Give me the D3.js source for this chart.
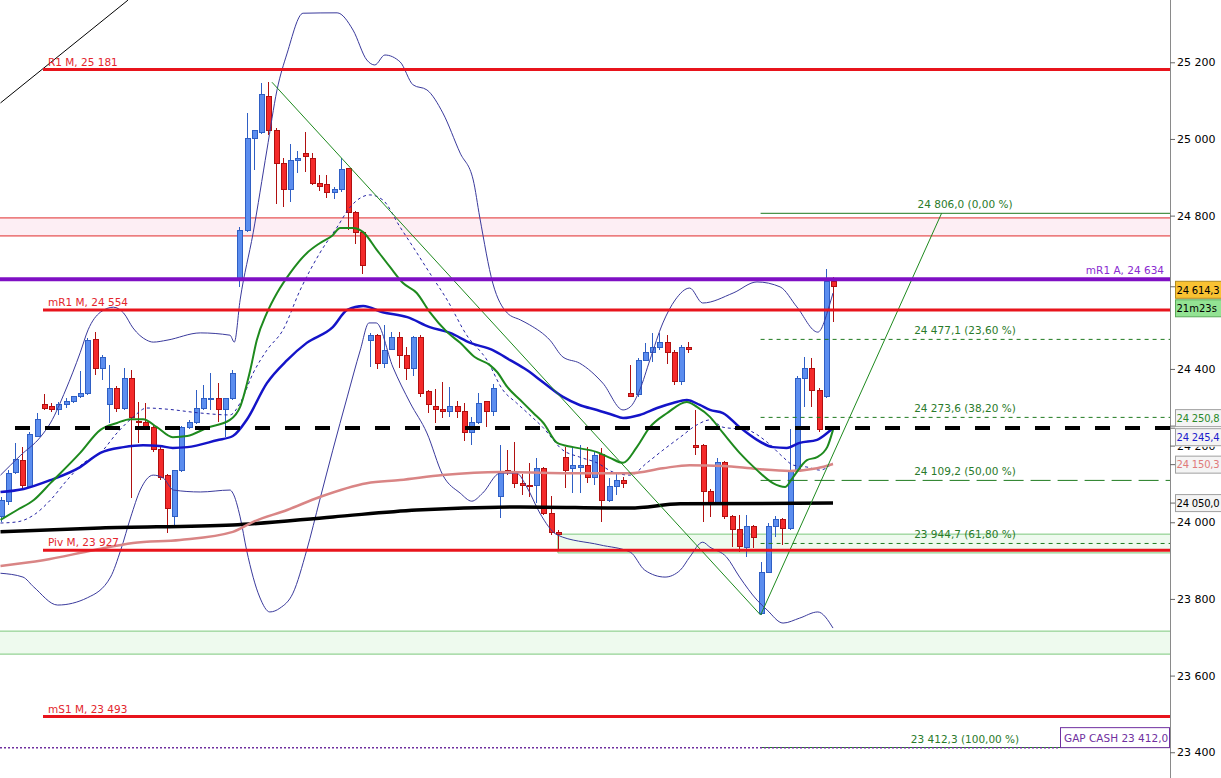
<!DOCTYPE html>
<html>
<head>
<meta charset="utf-8">
<script src="https://cdn.jsdelivr.net/npm/d3@7"></script>
<style>
  body { margin: 0; background: #fff; }
  svg { display: block; font-family: "DejaVu Sans", sans-serif; }
</style>
</head>
<body>
<div id="chart"></div>
<script>
// ---- data ----
// candles: [open, high, low, close]
const ohlc = [
  [24014,24066,24001,24058],[24053,24136,24045,24128],[24131,24207,24126,24165],[24162,24196,24084,24097],
  [24092,24235,24089,24230],[24225,24285,24222,24269],[24308,24335,24293,24298],[24301,24311,24288,24295],
  [24295,24314,24280,24308],[24306,24324,24298,24316],[24314,24329,24311,24327],[24327,24395,24324,24335],
  [24335,24481,24332,24475],[24478,24496,24384,24400],[24402,24436,24371,24431],[24308,24410,24259,24348],
  [24350,24355,24288,24298],[24298,24402,24293,24376],[24374,24397,24063,24272],[24264,24314,24207,24259],
  [24259,24311,24241,24248],[24248,24254,24183,24191],[24191,24196,24110,24118],[24121,24126,23972,24037],
  [24014,24136,23993,24134],[24134,24251,24131,24246],[24248,24267,24243,24259],[24259,24345,24256,24298],
  [24298,24358,24293,24324],[24322,24389,24293,24324],[24324,24363,24262,24293],[24293,24324,24222,24322],
  [24322,24397,24319,24389],[24637,24770,24614,24762],[24762,25068,24757,25002],[25002,25023,24919,25023],
  [25018,25146,25013,25115],[25112,25149,25010,25023],[25023,25029,24830,24935],[24935,24950,24822,24867],
  [24867,24987,24835,24945],[24945,24969,24911,24948],[24961,25018,24914,24953],[24950,24963,24880,24885],
  [24885,24906,24864,24875],[24880,24906,24846,24859],[24859,24875,24843,24867],[24867,24950,24862,24919],
  [24922,24924,24762,24807],[24809,24812,24726,24757],[24757,24760,24648,24671],[24475,24494,24405,24486],
  [24486,24491,24400,24413],[24415,24515,24402,24449],[24452,24496,24449,24481],[24481,24496,24402,24436],
  [24434,24457,24371,24402],[24402,24486,24382,24481],[24481,24489,24327,24337],[24340,24345,24285,24308],
  [24303,24348,24259,24295],[24295,24366,24272,24290],[24288,24353,24275,24301],[24303,24316,24272,24290],
  [24288,24311,24212,24235],[24235,24275,24201,24259],[24259,24337,24256,24311],[24314,24316,24248,24288],
  [24288,24361,24277,24350],[24066,24201,24011,24131],[24136,24188,24123,24131],[24131,24209,24089,24102],
  [24102,24126,24071,24097],[24095,24155,24066,24092],[24095,24168,24050,24139],[24139,24144,24019,24024],
  [24024,24068,23967,23972],[23972,23980,23928,23969],[24170,24196,24089,24136],[24139,24196,24076,24147],
  [24144,24201,24076,24147],[24147,24196,24102,24118],[24118,24183,24097,24175],[24178,24194,24001,24058],
  [24058,24115,24053,24092],[24092,24128,24071,24110],[24110,24118,24089,24100],[24335,24410,24327,24329],
  [24332,24428,24327,24421],[24423,24468,24421,24444],[24444,24494,24418,24455],[24455,24494,24449,24470],
  [24470,24489,24413,24442],[24442,24449,24358,24366],[24366,24462,24358,24457],[24457,24470,24442,24452],
  [24201,24293,24175,24196],[24199,24204,24001,24079],[24081,24087,24014,24050],[24050,24168,24045,24157],
  [24155,24160,24008,24014],[24014,24019,23935,23982],[23982,24019,23922,23938],[23935,24019,23909,23988],
  [23988,23993,23933,23959],[23763,23896,23758,23870],[23870,23998,23868,23990],[23990,24016,23962,24008],
  [24008,24011,23941,23985],[23985,24243,23980,24134],[24134,24382,24131,24376],[24374,24431,24301,24402],
  [24402,24428,24301,24345],[24345,24350,24235,24243],[24329,24661,24324,24627],[24627,24640,24522,24614]
];

// indicator lines: [candle index, price]
const bollUpper = [[0,24123],[2.8,24175],[5.5,24222],[6.9,24259],[9,24345],[11,24442],[12.1,24502],[13.8,24548],
  [15.6,24561],[17,24546],[18.3,24507],[20.2,24475],[21.1,24470],[23,24475],[27.6,24494],[31.7,24488],[32.3,24470],
  [33.1,24580],[34.9,24755],[36.8,24971],[38.2,25128],[39.6,25224],[41.8,25328],[46.5,25329],[48.7,25284],
  [50.6,25206],[51.7,25193],[53.1,25219],[55.2,25201],[57,25141],[58.9,25128],[61.1,25068],[63.5,24963],
  [65.3,24893],[66.2,24796],[68,24624],[70,24546],[71.8,24528],[73.1,24515],[75.9,24475],[77.7,24431],
  [80,24415],[83.2,24363],[86,24293],[87,24301],[88.3,24345],[89.7,24423],[91.5,24520],[93.2,24580],
  [95.2,24611],[97,24572],[101.2,24598],[104.5,24627],[107.7,24614],[110,24562],[112.9,24496],[114.6,24572],[115,24598]];
const bollLower = [[0,23867],[3.1,23857],[4.6,23831],[7.9,23784],[12,23803],[15.2,23857],[16.6,23927],[18,24014],
  [19.3,24084],[21.1,24123],[22.5,24115],[23.9,24084],[27.6,24079],[31.7,24084],[32.1,24076],
  [33.1,24014],[34,23927],[35.8,23805],[37.2,23766],[38.6,23776],[40.4,23815],[42.3,23927],[44.1,24058],
  [45.9,24188],[47.9,24327],[49.7,24449],[50.9,24520],[51.9,24520],[54.2,24405],[56.6,24311],[58.9,24233],
  [61.1,24123],[63.5,24076],[65.1,24055],[66.6,24076],[69,24128],[71.3,24128],[72.7,24092],[74.5,24024],
  [76.9,23967],[82.8,23941],[87,23922],[89,23875],[91.8,23857],[93.9,23875],[95.2,23909],[97,23948],
  [98,23935],[100.3,23909],[102.1,23857],[104.5,23797],[105.9,23771],[108.1,23737],[110.4,23750],
  [112.9,23766],[115,23724]];
const bollMid = [[0,23998],[2.3,24001],[4.6,24019],[6.9,24058],[9.2,24110],[11.5,24155],[13.8,24181],[16.1,24233],
  [18.3,24274],[20.2,24298],[23,24295],[27.6,24285],[31.7,24280],[33.1,24311],[34.9,24389],[36.8,24449],
  [39,24501],[41.4,24606],[44.1,24702],[46.5,24770],[48.3,24822],[49.7,24846],[51,24854],[52.8,24841],
  [55.2,24770],[57,24718],[59.3,24650],[61.7,24580],[64.4,24488],[67.2,24423],[69.4,24345],[71.3,24311],
  [73.1,24280],[74.9,24248],[77.7,24188],[80,24170],[82.4,24155],[84.6,24131],[87,24123],[89.3,24155],
  [91.5,24188],[93.9,24222],[96.2,24254],[98,24267],[99.8,24248],[103.1,24241],[105.9,24209],[108.1,24170],
  [109.5,24149],[111.4,24144],[113.2,24136],[115,24155]];
const emaFast = [[0,24006],[2.3,24032],[4.6,24058],[6.9,24102],[11,24181],[13.8,24241],[16.1,24259],[17.9,24269],
  [19.7,24269],[21.6,24248],[23.8,24222],[25.8,24225],[28.5,24246],[31.7,24267],[33.1,24301],[34.5,24397],
  [35.4,24475],[36.8,24546],[38.2,24598],[40,24650],[42.3,24702],[44.1,24728],[45.9,24749],[46.9,24768],
  [48.7,24768],[50.1,24757],[52,24710],[53.8,24666],[55.6,24624],[57.5,24598],[59.3,24548],[61.7,24496],
  [63.5,24468],[65.5,24431],[67.6,24410],[68.6,24392],[70,24353],[71.8,24319],[73.6,24285],[75,24259],
  [76.9,24207],[79.1,24196],[82.4,24183],[84.2,24168],[86,24155],[87.9,24196],[89.7,24248],[92.1,24285],
  [94.8,24314],[96.2,24301],[98,24275],[99.8,24233],[102.1,24181],[104.5,24136],[106.7,24102],[108.4,24092],
  [109.5,24118],[111.4,24162],[112.8,24170],[114.2,24196],[115,24241]];
const emaMid = [[0,24079],[3.2,24087],[6.9,24110],[11,24144],[13.8,24181],[17,24196],[19.7,24201],[22,24199],
  [23.8,24194],[25.8,24196],[29.9,24214],[32.1,24225],[34,24267],[36.8,24363],[39.6,24423],[42.3,24468],
  [45.9,24509],[47.9,24554],[50.1,24564],[52.8,24548],[56.2,24535],[59.3,24509],[62.1,24494],[64.9,24468],
  [68,24449],[70.4,24423],[72.7,24397],[74.9,24366],[77.7,24327],[80,24306],[82.4,24293],[84.6,24280],
  [86,24272],[88.3,24280],[90.7,24298],[92.9,24311],[94.8,24319],[96.6,24306],[98,24293],[99.8,24285],
  [102.1,24248],[104.5,24215],[106.7,24196],[108.6,24194],[110.4,24207],[112.8,24215],[114.2,24233],[115,24246]];
const maSlow = [[0,23886],[5.9,23901],[12.8,23927],[18.3,23946],[24.8,23954],[32.1,23975],[34.9,24001],
  [39.6,24032],[44.1,24066],[50.6,24102],[55.2,24110],[61.1,24123],[69,24131],[77.7,24128],[87,24128],
  [91.5,24141],[95.2,24149],[99.8,24147],[104.5,24139],[109,24134],[112.8,24141],[115,24152]];
const maLong = [[0,23975],[13.8,23985],[32.1,23993],[45.9,24014],[57.5,24032],[71.8,24040],[87,24037],
  [93.9,24048],[115,24050]];

// horizontal levels
const levelNames = ["R1 M", "mR1 M", "Piv M", "mS1 M"];
const levelValues = [25181, 24554, 23927, 23493];
const annualName = "mR1 A";
const annualValue = 24634;
const dashedLevel = 24246;
const gapCash = 23412.0;

// zones [low, high]
const pinkZone = [24747, 24794];
const greenZoneLow = [23656, 23716];
const greenZoneFib = [23920, 23969];

// fibonacci retracement
const fibValues = [24806.0, 24477.1, 24273.6, 24109.2, 23944.7, 23412.3];
const fibPercents = [0, 23.6, 38.2, 50, 61.8, 100];

// drawn trend lines: [candle index, price]
const trendDown = [[37.5, 25148], [105, 23758]];
const trendUp = [[105, 23758], [130, 24806]];
const trendOld = [[0, 25094], [17.6, 25362]];

// price axis (24 600 sits under the price tags)
const priceTicks = [23400, 23600, 23800, 24000, 24200, 24400, 24800, 25000, 25200];
const lastPrice = 24614.3;
const timerText = "21m23s";
const indicatorTags = [
  { value: 24250.8, color: "#2a8a2a", shift: -8 },
  { value: 24245.4, color: "#1c1ccc", shift: 9 },
  { value: 24150.3, color: "#e07a7a", shift: 0 },
  { value: 24050.0, color: "#000000", shift: 0 }
];

// ---- drawing ----
const W = 1221, H = 778, plotRight = 1170;
const loc = d3.formatLocale({ decimal: ",", thousands: " ", grouping: [3], currency: ["", ""] });
const fmt0 = loc.format(",d"), fmt1 = loc.format(",.1f"), fmtPct = loc.format(".2f");

const x = d3.scaleLinear().domain([0, ohlc.length - 1]).range([0.5, 833]);
const y = d3.scaleLinear().domain([23332.8, 25362.5]).range([H, 0]);

const svg = d3.select("#chart").append("svg").attr("width", W).attr("height", H);
svg.append("rect").attr("width", W).attr("height", H).attr("fill", "#fff");
const defs = svg.append("defs");
defs.append("clipPath").attr("id", "plot").append("rect")
  .attr("width", plotRight).attr("height", H);
const plot = svg.append("g").attr("clip-path", "url(#plot)");

// zones
function zone(range, x0, fill, stroke) {
  plot.append("rect").attr("x", x0).attr("width", plotRight - x0)
    .attr("y", y(range[1])).attr("height", y(range[0]) - y(range[1]))
    .attr("fill", fill);
  [range[0], range[1]].forEach(v => plot.append("line")
    .attr("x1", x0).attr("x2", plotRight).attr("y1", y(v)).attr("y2", y(v))
    .attr("stroke", stroke).attr("stroke-width", 1));
}
zone(pinkZone, 0, "#fdeef4", "#e02a2a");
zone(greenZoneLow, 0, "#eefaee", "#7cc87c");
zone(greenZoneFib, x(77), "#eefaee", "#7cc87c");
plot.append("line").attr("x1", x(77)).attr("x2", x(77))
  .attr("y1", y(greenZoneFib[1])).attr("y2", y(greenZoneFib[0]))
  .attr("stroke", "#7cc87c");

// candles
const candles = plot.append("g").attr("shape-rendering", "crispEdges");
ohlc.forEach((d, i) => {
  const [o, h, l, c] = d;
  const up = c >= o;
  const edge = up ? "#2f5fc4" : "#b01010";
  const cx = Math.round(x(i)) + 0.5;
  candles.append("line").attr("x1", cx).attr("x2", cx)
    .attr("y1", y(h)).attr("y2", y(l)).attr("stroke", edge);
  const top = y(Math.max(o, c)), bot = y(Math.min(o, c));
  candles.append("rect").attr("x", cx - 2.5).attr("width", 5)
    .attr("y", top).attr("height", Math.max(1, bot - top))
    .attr("fill", up ? "#5b8def" : "#f42a2a").attr("stroke", edge);
});

// indicators
const line = d3.line().x(d => x(d[0])).y(d => y(d[1])).curve(d3.curveMonotoneX);
const straight = d3.line().x(d => x(d[0])).y(d => y(d[1]));
function path(data, color, width, dash, gen) {
  plot.append("path").datum(data).attr("d", gen || line)
    .attr("fill", "none").attr("stroke", color).attr("stroke-width", width)
    .attr("stroke-dasharray", dash || null).attr("stroke-linejoin", "round");
}
path(bollUpper, "#3a3a9c", 1);
path(bollLower, "#3a3a9c", 1);
path(bollMid, "#2424a4", 1, "3,3");
path(maLong, "#000", 3.5);
path(maSlow, "#d98585", 2.5);
path(emaMid, "#1414c8", 2.5);
path(emaFast, "#1e8a1e", 2);

// trend lines
path(trendDown, "#1e8a1e", 1, null, straight);
path(trendUp, "#1e8a1e", 1, null, straight);
path(trendOld, "#000", 1, null, straight);

// dashed black level
plot.append("line").attr("x1", 0).attr("x2", plotRight)
  .attr("y1", y(dashedLevel)).attr("y2", y(dashedLevel))
  .attr("stroke", "#000").attr("stroke-width", 4)
  .attr("stroke-dasharray", "15,15").attr("stroke-dashoffset", 15);

// fibonacci
fibValues.forEach((v, k) => {
  const p = fibPercents[k];
  const dash = (p === 0 || p === 100) ? null : (p === 50 ? "20,7" : "4,4");
  plot.append("line").attr("x1", x(105)).attr("x2", plotRight)
    .attr("y1", y(v)).attr("y2", y(v))
    .attr("stroke", "#1f7a1f").attr("stroke-width", 1)
    .attr("stroke-dasharray", dash);
  plot.append("text").attr("x", 965).attr("y", y(v) - 5)
    .attr("text-anchor", "middle").attr("font-size", "10.5px").attr("fill", "#2a7a2a")
    .text(`${fmt1(v)} (${fmtPct(p)} %)`);
});

// gap cash dotted line + box
plot.append("line").attr("x1", 0).attr("x2", 1060)
  .attr("y1", y(gapCash)).attr("y2", y(gapCash))
  .attr("stroke", "#7030a0").attr("stroke-width", 1.5).attr("stroke-dasharray", "2,2");
plot.append("rect").attr("x", 1060.5).attr("y", y(gapCash) - 20).attr("width", 109).attr("height", 20)
  .attr("fill", "#fff").attr("stroke", "#7030a0");
plot.append("text").attr("x", 1064).attr("y", y(gapCash) - 6)
  .attr("font-size", "10.5px").attr("fill", "#7030a0").text("GAP CASH " + fmt1(gapCash));

// pivot levels
levelValues.forEach((v, k) => {
  plot.append("line").attr("x1", 43).attr("x2", plotRight)
    .attr("y1", y(v)).attr("y2", y(v)).attr("stroke", "#e8141c").attr("stroke-width", 3);
  plot.append("text").attr("x", 48).attr("y", y(v) - 4)
    .attr("font-size", "10.5px").attr("fill", "#e3262d")
    .text(`${levelNames[k]}, ${fmt0(v)}`);
});
plot.append("line").attr("x1", 0).attr("x2", plotRight)
  .attr("y1", y(annualValue)).attr("y2", y(annualValue))
  .attr("stroke", "#7f10c4").attr("stroke-width", 4);
plot.append("text").attr("x", 1164).attr("y", y(annualValue) - 5)
  .attr("text-anchor", "end").attr("font-size", "10.5px").attr("fill", "#8a2bd0")
  .text(`${annualName}, ${fmt0(annualValue)}`);

// price axis
const axis = svg.append("g").attr("transform", `translate(${plotRight},0)`)
  .call(d3.axisRight(y).tickValues(priceTicks).tickFormat(fmt0).tickSize(5).tickPadding(2));
axis.select(".domain").attr("stroke", "#8a8a8a").attr("d", `M0.5,0V${H}`);
axis.selectAll(".tick line").attr("stroke", "#666");
axis.selectAll(".tick text").attr("font-size", "11px").attr("font-family", "DejaVu Sans").attr("fill", "#000");

// price tags on the axis
const tagH = 17;
function tag(value, shift, text, fg, bg, border) {
  const cy = y(value) + shift;
  svg.append("line").attr("x1", plotRight).attr("x2", plotRight + 5)
    .attr("y1", y(value)).attr("y2", y(value)).attr("stroke", "#666");
  svg.append("rect").attr("x", plotRight + 5.5).attr("y", cy - tagH / 2).attr("width", 60).attr("height", tagH)
    .attr("fill", bg).attr("stroke", border);
  svg.append("text").attr("x", plotRight + 6.5).attr("y", cy + 3.8)
    .attr("font-size", "10px").attr("letter-spacing", "-0.2px").attr("fill", fg).text(text);
  return cy + tagH / 2;
}
let blueTagBottom = 0;
indicatorTags.forEach(t => {
  const b = tag(t.value, t.shift, fmt1(t.value), t.color, "#f4f4f4", "#a0a0a0");
  if (t.shift > 0) blueTagBottom = b;
});
tag(lastPrice, 3, fmt1(lastPrice), "#000", "#f9c232", "#b08a20");
svg.append("rect").attr("x", plotRight + 5.5).attr("y", y(lastPrice) + 13).attr("width", 60).attr("height", tagH)
  .attr("fill", "#93e393").attr("stroke", "#5aa85a");
svg.append("text").attr("x", plotRight + 6.5).attr("y", y(lastPrice) + 25.3)
  .attr("font-size", "10px").attr("fill", "#000").text(timerText);

// the 24 200 label is half hidden under the blue tag: only its lower part shows
defs.append("clipPath").attr("id", "underTag").append("rect")
  .attr("x", -10).attr("y", blueTagBottom + 0.5).attr("width", 80).attr("height", H);
axis.selectAll(".tick").filter(d => d === 24200).select("text")
  .attr("transform", null)
  .each(function () {
    const g = d3.select(this.parentNode);
    const ty = y(24200);
    // express the clip in tick-local coords
    d3.select("#underTag rect").attr("y", blueTagBottom + 0.5 - ty);
    g.select("text").attr("clip-path", "url(#underTag)");
  });
</script>
</body>
</html>
